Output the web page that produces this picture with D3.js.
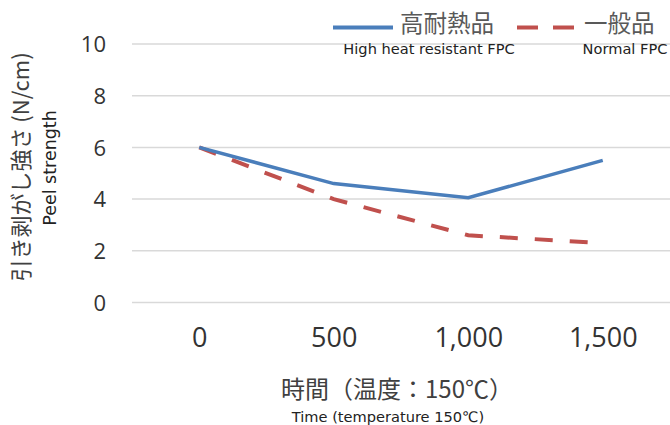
<!DOCTYPE html>
<html><head><meta charset="utf-8">
<script src="https://cdn.jsdelivr.net/npm/d3@7"></script>
<style>body{margin:0;background:#fff}svg{display:block}</style>
</head><body>
<script>
const categories = ["0", "500", "1,000", "1,500"];
const highHeat = [6.0, 4.6, 4.05, 5.5];
const normal = [6.0, 4.0, 2.6, 2.3];
const yTicks = [0, 2, 4, 6, 8, 10];
const seriesNames = ["高耐熱品", "一般品"];
const seriesNamesEn = ["High heat resistant FPC", "Normal FPC"];

const W = 670, H = 425;
const svg = d3.select("body").append("svg").attr("width", W).attr("height", H);
const jp = "'Noto Sans CJK JP', 'Open Sans', sans-serif";
const num = "'Open Sans', 'DejaVu Sans', sans-serif";
const en = "'DejaVu Sans', 'Open Sans', sans-serif";

const x = d3.scalePoint().domain(categories).range([132, 670]).padding(0.5);
const y = d3.scaleLinear().domain([0, 10]).range([302.5, 44]);

// gridlines
svg.append("g").selectAll("line").data(yTicks).join("line")
  .attr("x1", 132).attr("x2", 670)
  .attr("y1", d => y(d)).attr("y2", d => y(d))
  .attr("stroke", "#d9d9d9").attr("stroke-width", 1.5);

// y axis labels
const ya = svg.append("g").attr("transform", "translate(106,0)")
  .call(d3.axisLeft(y).tickValues(yTicks).tickSize(0).tickPadding(0));
ya.select(".domain").remove();
ya.selectAll("text").attr("font-family", num).attr("font-size", 22).attr("fill", "#333").attr("dy", "0.35em");

// x axis labels
const xa = svg.append("g").attr("transform", "translate(0,328)")
  .call(d3.axisBottom(x).tickSize(0).tickPadding(0));
xa.select(".domain").remove();
xa.selectAll("text").attr("font-family", num).attr("font-size", 27).attr("fill", "#333").attr("dy", "0.71em");

// lines
const line = d3.line().x((d, i) => x(categories[i])).y(d => y(d));
svg.append("path").datum(normal).attr("d", line).attr("fill", "none")
  .attr("stroke", "#c0504d").attr("stroke-width", 4).attr("stroke-dasharray", "18,17");
svg.append("path").datum(highHeat).attr("d", line).attr("fill", "none")
  .attr("stroke", "#4a7ebb").attr("stroke-width", 3.5);

// axis titles
svg.append("text").attr("x", 397).attr("y", 398).attr("text-anchor", "middle")
  .attr("font-family", jp).attr("font-size", 24).attr("fill", "#404040").text("時間（温度：150℃）");
svg.append("text").attr("x", 388).attr("y", 421.5).attr("text-anchor", "middle")
  .attr("font-family", en).attr("font-size", 14.6).attr("fill", "#222").text("Time (temperature 150℃)");

svg.append("text").attr("transform", "translate(29,167) rotate(-90)").attr("text-anchor", "middle")
  .attr("font-family", jp).attr("font-size", 22).attr("fill", "#404040").text("引き剥がし強さ (N/cm)");
svg.append("text").attr("transform", "translate(56,168) rotate(-90)").attr("text-anchor", "middle")
  .attr("font-family", en).attr("font-size", 17.5).attr("fill", "#222").text("Peel strength");

// legend
const leg = [
  {lx: 333, tx: 400, ex: 429, color: "#4a7ebb", dash: null},
  {lx: 517, tx: 584, ex: 625, color: "#c0504d", dash: "21,15"}
];
leg.forEach((l, i) => {
  svg.append("line").attr("x1", l.lx).attr("x2", l.lx + 60).attr("y1", 27.5).attr("y2", 27.5)
    .attr("stroke", l.color).attr("stroke-width", 4).attr("stroke-dasharray", l.dash);
  svg.append("text").attr("x", l.tx).attr("y", 32).attr("font-family", jp).attr("font-size", 23.5)
    .attr("fill", "#595959").text(seriesNames[i]);
  svg.append("text").attr("x", l.ex).attr("y", 54).attr("text-anchor", "middle").attr("font-family", en).attr("font-size", 14.6)
    .attr("fill", "#222").text(seriesNamesEn[i]);
});
</script>
</body></html>
